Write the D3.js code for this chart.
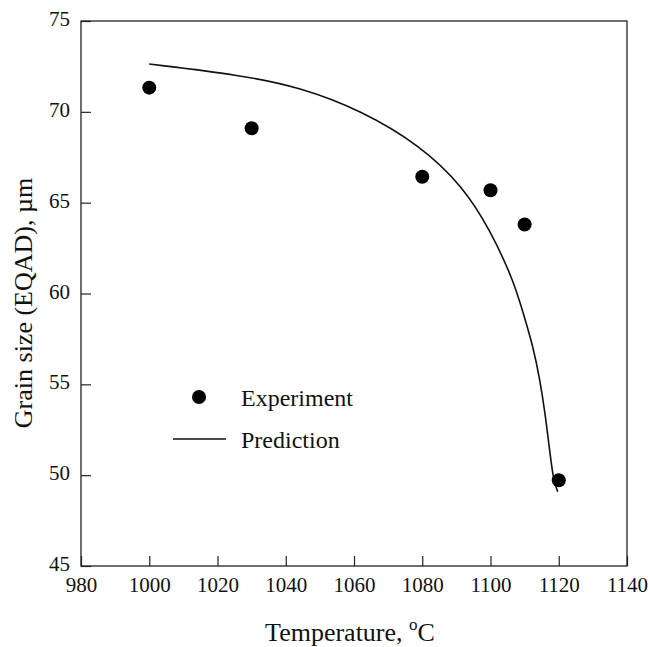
<!DOCTYPE html>
<html>
<head>
<meta charset="utf-8">
<script src="https://cdn.jsdelivr.net/npm/d3@7"></script>
<style>
  html, body { margin: 0; padding: 0; background: #fff; }
</style>
</head>
<body>
<svg id="chart" width="648" height="647"></svg>
<script>
// Measured grain size versus solution temperature
const expTemp = [1000, 1030, 1080, 1100, 1110, 1120];
const expSize = [71.33, 69.1, 66.43, 65.68, 63.8, 49.72];

// Model prediction curve
const predTemp = [1000, 1026.6, 1044.2, 1061.8, 1079.3, 1092.0, 1099.9, 1106.7, 1109.6, 1112.5, 1114.5, 1116.0, 1117.2, 1118.4, 1119.7];
const predSize = [72.63, 72.03, 71.35, 70.10, 68.17, 65.88, 63.49, 60.74, 58.91, 57.07, 55.23, 53.41, 51.57, 49.73, 49.09];

const xTicks = [980, 1000, 1020, 1040, 1060, 1080, 1100, 1120, 1140];
const yTicks = [45, 50, 55, 60, 65, 70, 75];

const FONT = "'Liberation Serif', Tinos, 'Times New Roman', Times, serif";

const svg = d3.select("#chart")
  .attr("font-family", FONT)
  .style("font-family", FONT);

const x = d3.scaleLinear().domain([980, 1140]).range([81, 627]);
const y = d3.scaleLinear().domain([45, 75]).range([566, 21]);

// Frame
svg.append("rect")
  .attr("x", x(980)).attr("y", y(75))
  .attr("width", x(1140) - x(980)).attr("height", y(45) - y(75))
  .attr("fill", "none").attr("stroke", "#222").attr("stroke-width", 1.3);

function styleAxis(g) {
  g.attr("font-family", FONT).style("font-family", FONT);
  g.select(".domain").remove();
  g.selectAll("line").attr("stroke", "#222").attr("stroke-width", 1.2);
  g.selectAll("text").attr("font-size", 21).style("font-family", FONT).attr("fill", "#111");
}

// Bottom axis, ticks pointing inward
svg.append("g")
  .attr("transform", `translate(0,${y(45)})`)
  .call(d3.axisBottom(x).tickValues(xTicks).tickSize(-10).tickPadding(11).tickFormat(d3.format("d")))
  .call(styleAxis);

// Left axis, ticks pointing inward
svg.append("g")
  .attr("transform", `translate(${x(980)},0)`)
  .call(d3.axisLeft(y).tickValues(yTicks).tickSize(-10).tickPadding(11))
  .call(styleAxis)
  .selectAll("text").attr("dy", "0.22em");

// Axis titles
const xt = svg.append("text")
  .attr("x", 350).attr("y", 641)
  .attr("text-anchor", "middle").attr("font-size", 26)
  .style("font-family", FONT).attr("fill", "#111");
xt.append("tspan").text("Temperature, ");
xt.append("tspan").attr("font-size", 17).attr("dy", -11).text("o");
xt.append("tspan").attr("dy", 11).text("C");

svg.append("text")
  .attr("transform", `translate(32,303) rotate(-90)`)
  .attr("text-anchor", "middle").attr("font-size", 26)
  .style("font-family", FONT).attr("fill", "#111")
  .text("Grain size (EQAD), µm");

// Prediction line (smoothed through the sampled points)
const line = d3.line()
  .x(d => x(d[0])).y(d => y(d[1]))
  .curve(d3.curveBasis);
svg.append("path")
  .datum(predTemp.map((t, i) => [t, predSize[i]]))
  .attr("d", line)
  .attr("fill", "none").attr("stroke", "#111").attr("stroke-width", 1.6);

// Experimental points
svg.append("g").selectAll("circle")
  .data(expTemp.map((t, i) => [t, expSize[i]]))
  .join("circle")
  .attr("cx", d => x(d[0])).attr("cy", d => y(d[1]))
  .attr("r", 7).attr("fill", "#000");

// Legend
const lg = svg.append("g");
lg.append("circle").attr("cx", 199).attr("cy", 397).attr("r", 7).attr("fill", "#000");
lg.append("text").attr("x", 241).attr("y", 406).attr("font-size", 24)
  .style("font-family", FONT).attr("fill", "#111").text("Experiment");
lg.append("line").attr("x1", 173).attr("x2", 226).attr("y1", 439).attr("y2", 439)
  .attr("stroke", "#111").attr("stroke-width", 1.6);
lg.append("text").attr("x", 241).attr("y", 448).attr("font-size", 24)
  .style("font-family", FONT).attr("fill", "#111").text("Prediction");
</script>
</body>
</html>
